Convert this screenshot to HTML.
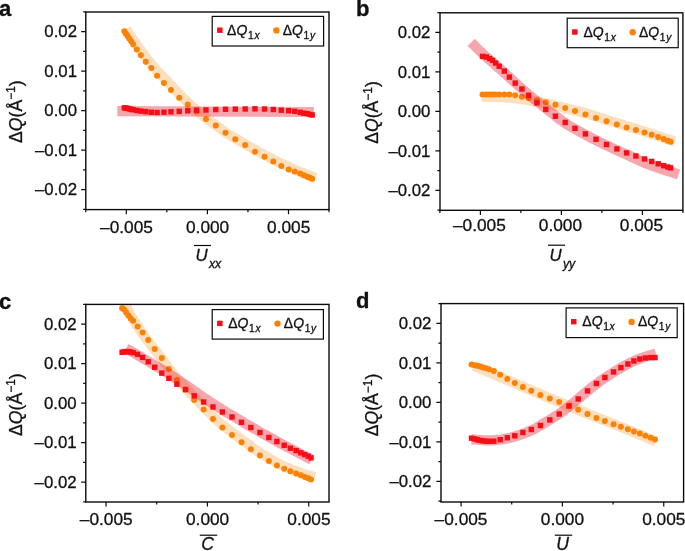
<!DOCTYPE html>
<html><head><meta charset="utf-8"><style>
html,body{margin:0;padding:0;background:#fff;width:685px;height:551px;overflow:hidden}
svg{display:block;will-change:transform;opacity:0.999}
text{font-family:"Liberation Sans", sans-serif;fill:#111;stroke:#111;stroke-width:0.3px}
.t{font-size:16.8px}
.tx{font-size:17.3px}
.yl{font-size:17.6px}
.xl{font-size:17.6px}
.pl{font-size:22px;font-weight:bold}
.lg{font-size:14px}
</style></head><body>
<svg width="685" height="551" viewBox="0 0 685 551">
<rect width="685" height="551" fill="#fff"/>
<clipPath id="cpa"><rect x="85.8" y="12" width="243.2" height="197.6"/></clipPath>
<g clip-path="url(#cpa)">
<path d="M126 29 C127.48 31.25 132.32 38.8 134.9 42.5 C137.48 46.2 139.48 48.5 141.5 51.2 C143.52 53.9 144.9 55.98 147 58.7 C149.1 61.42 151.53 64.58 154.1 67.5 C156.67 70.42 159.63 73.28 162.4 76.2 C165.17 79.12 168.17 82.28 170.7 85 C173.23 87.72 175 89.8 177.6 92.5 C180.2 95.2 183.38 98.43 186.3 101.2 C189.22 103.97 191.82 106.25 195.1 109.1 C198.38 111.95 202.58 115.62 206 118.3 C209.42 120.98 212.37 122.88 215.6 125.2 C218.83 127.52 222.08 130 225.4 132.2 C228.72 134.4 232.2 136.4 235.5 138.4 C238.8 140.4 241.95 142.3 245.2 144.2 C248.45 146.1 251.23 147.7 255 149.8 C258.77 151.9 263.18 154.4 267.8 156.8 C272.42 159.2 277.67 161.83 282.7 164.2 C287.73 166.57 292.55 168.7 298 171 C303.45 173.3 312.5 176.83 315.4 178" fill="none" stroke="rgba(250,150,40,0.30)" stroke-width="10.2" stroke-linejoin="round" stroke-linecap="butt"/>
<circle cx="124.3" cy="31.3" r="3.0" fill="#fb8204"/>
<circle cx="125.9" cy="33.64" r="3.0" fill="#fb8204"/>
<circle cx="127.6" cy="36.12" r="3.0" fill="#fb8204"/>
<circle cx="129.4" cy="38.74" r="3.0" fill="#fb8204"/>
<circle cx="131.2" cy="41.37" r="3.0" fill="#fb8204"/>
<circle cx="133.1" cy="44.14" r="3.0" fill="#fb8204"/>
<circle cx="136.8" cy="49.48" r="3.0" fill="#fb8204"/>
<circle cx="140.9" cy="55.3" r="3.0" fill="#fb8204"/>
<circle cx="145.8" cy="61.7" r="3.0" fill="#fb8204"/>
<circle cx="151.3" cy="67.96" r="3.0" fill="#fb8204"/>
<circle cx="157.1" cy="75.7" r="3.0" fill="#fb8204"/>
<circle cx="163.9" cy="83.1" r="3.0" fill="#fb8204"/>
<circle cx="171" cy="90.1" r="3.0" fill="#fb8204"/>
<circle cx="179.2" cy="97.7" r="3.0" fill="#fb8204"/>
<circle cx="187.8" cy="104.42" r="3.0" fill="#fb8204"/>
<circle cx="196.6" cy="111.6" r="3.0" fill="#fb8204"/>
<circle cx="206" cy="119.1" r="3.0" fill="#fb8204"/>
<circle cx="215.8" cy="125.53" r="3.0" fill="#fb8204"/>
<circle cx="225.5" cy="132.73" r="3.0" fill="#fb8204"/>
<circle cx="235.3" cy="139.16" r="3.0" fill="#fb8204"/>
<circle cx="245.2" cy="145.1" r="3.0" fill="#fb8204"/>
<circle cx="255" cy="151.8" r="3.0" fill="#fb8204"/>
<circle cx="264.5" cy="156.8" r="3.0" fill="#fb8204"/>
<circle cx="273.3" cy="161.55" r="3.0" fill="#fb8204"/>
<circle cx="281.3" cy="165.9" r="3.0" fill="#fb8204"/>
<circle cx="288.7" cy="169.41" r="3.0" fill="#fb8204"/>
<circle cx="294.8" cy="171.61" r="3.0" fill="#fb8204"/>
<circle cx="300.2" cy="173.59" r="3.0" fill="#fb8204"/>
<circle cx="303.8" cy="175.15" r="3.0" fill="#fb8204"/>
<circle cx="307.2" cy="176.68" r="3.0" fill="#fb8204"/>
<circle cx="310" cy="177.85" r="3.0" fill="#fb8204"/>
<circle cx="312.2" cy="178.8" r="3.0" fill="#fb8204"/>
<path d="M117.3 111.1 L313.8 112" fill="none" stroke="rgba(232,22,40,0.38)" stroke-width="10.2" stroke-linejoin="round" stroke-linecap="butt"/>
<rect x="121.6" y="105.16" width="5.4" height="5.4" fill="#f80c16"/>
<rect x="123.2" y="105.36" width="5.4" height="5.4" fill="#f80c16"/>
<rect x="124.9" y="105.66" width="5.4" height="5.4" fill="#f80c16"/>
<rect x="126.7" y="106.16" width="5.4" height="5.4" fill="#f80c16"/>
<rect x="128.5" y="106.64" width="5.4" height="5.4" fill="#f80c16"/>
<rect x="130.4" y="107.07" width="5.4" height="5.4" fill="#f80c16"/>
<rect x="134.1" y="107.8" width="5.4" height="5.4" fill="#f80c16"/>
<rect x="138.2" y="108.39" width="5.4" height="5.4" fill="#f80c16"/>
<rect x="143.1" y="108.9" width="5.4" height="5.4" fill="#f80c16"/>
<rect x="148.6" y="109.58" width="5.4" height="5.4" fill="#f80c16"/>
<rect x="154.4" y="109.79" width="5.4" height="5.4" fill="#f80c16"/>
<rect x="161.2" y="109.5" width="5.4" height="5.4" fill="#f80c16"/>
<rect x="168.3" y="109.11" width="5.4" height="5.4" fill="#f80c16"/>
<rect x="176.5" y="108.7" width="5.4" height="5.4" fill="#f80c16"/>
<rect x="185.1" y="108.09" width="5.4" height="5.4" fill="#f80c16"/>
<rect x="193.9" y="107.51" width="5.4" height="5.4" fill="#f80c16"/>
<rect x="203.3" y="107.3" width="5.4" height="5.4" fill="#f80c16"/>
<rect x="213.1" y="106.9" width="5.4" height="5.4" fill="#f80c16"/>
<rect x="222.8" y="106.59" width="5.4" height="5.4" fill="#f80c16"/>
<rect x="232.6" y="106.4" width="5.4" height="5.4" fill="#f80c16"/>
<rect x="242.5" y="106.3" width="5.4" height="5.4" fill="#f80c16"/>
<rect x="252.3" y="106.1" width="5.4" height="5.4" fill="#f80c16"/>
<rect x="261.8" y="106.3" width="5.4" height="5.4" fill="#f80c16"/>
<rect x="270.6" y="106.81" width="5.4" height="5.4" fill="#f80c16"/>
<rect x="278.6" y="107.5" width="5.4" height="5.4" fill="#f80c16"/>
<rect x="286" y="108.01" width="5.4" height="5.4" fill="#f80c16"/>
<rect x="292.1" y="108.65" width="5.4" height="5.4" fill="#f80c16"/>
<rect x="297.5" y="109.65" width="5.4" height="5.4" fill="#f80c16"/>
<rect x="301.1" y="110.52" width="5.4" height="5.4" fill="#f80c16"/>
<rect x="304.5" y="110.9" width="5.4" height="5.4" fill="#f80c16"/>
<rect x="307.3" y="111.8" width="5.4" height="5.4" fill="#f80c16"/>
<rect x="309.5" y="112.3" width="5.4" height="5.4" fill="#f80c16"/>
</g>
<rect x="85.8" y="12" width="243.2" height="197.6" fill="none" stroke="#0a0a0a" stroke-width="1.4"/>
<path d="M83.2 11.95H85.8M81.2 31.7H85.8M83.2 51.45H85.8M81.2 71.2H85.8M83.2 90.95H85.8M81.2 110.7H85.8M83.2 130.45H85.8M81.2 150.2H85.8M83.2 169.95H85.8M81.2 189.7H85.8M83.2 209.45H85.8M85.75 209.6V212.2M126.3 209.6V214.2M166.85 209.6V212.2M207.4 209.6V214.2M247.95 209.6V212.2M288.5 209.6V214.2M329.05 209.6V212.2" stroke="#0a0a0a" stroke-width="1.2" fill="none"/>
<text x="77" y="37.45" text-anchor="end" class="t">0.02</text>
<text x="77" y="76.95" text-anchor="end" class="t">0.01</text>
<text x="77" y="116.45" text-anchor="end" class="t">0.00</text>
<text x="77" y="155.95" text-anchor="end" class="t">–0.01</text>
<text x="77" y="195.45" text-anchor="end" class="t">–0.02</text>
<text x="126.5" y="232.9" text-anchor="middle" class="tx">–0.005</text>
<text x="207.6" y="232.9" text-anchor="middle" class="tx">0.000</text>
<text x="288.7" y="232.9" text-anchor="middle" class="tx">0.005</text>
<text transform="translate(21.8,111.6) rotate(-90)" text-anchor="middle" class="yl">Δ<tspan font-style="italic">Q</tspan>(Å<tspan dy="-6.5" font-size="12">−1</tspan><tspan dy="6.5">)</tspan></text>
<text x="195.4" y="261" class="t" font-style="italic">U<tspan dx="1.4" dy="6.6" font-size="12.3">xx</tspan></text>
<path d="M194 245.5h17" stroke="#0a0a0a" stroke-width="1.2"/>
<text x="-0.9" y="15.7" class="pl">a</text>
<rect x="212.2" y="16.4" width="111.4" height="29.6" fill="#fff" stroke="#0a0a0a" stroke-width="1.2"/>
<rect x="217.1" y="27.5" width="5.5" height="5.4" fill="#f80c16"/>
<text x="227.1" y="34.9" class="lg">Δ<tspan font-style="italic">Q</tspan><tspan dx="0.6" dy="3.9" font-size="10.2">1<tspan dx="0.8" font-style="italic">x</tspan></tspan></text>
<circle cx="276.4" cy="30.4" r="3.2" fill="#fb8204"/>
<text x="282.7" y="34.9" class="lg">Δ<tspan font-style="italic">Q</tspan><tspan dx="0.6" dy="3.9" font-size="10.2">1<tspan dx="0.8" font-style="italic">y</tspan></tspan></text>
<clipPath id="cpb"><rect x="440" y="12.8" width="242.9" height="197.5"/></clipPath>
<g clip-path="url(#cpb)">
<path d="M482 96.8 C485 96.85 494.5 96.85 500 97.1 C505.5 97.35 510 97.75 515 98.3 C520 98.85 525 99.58 530 100.4 C535 101.22 540 102.15 545 103.2 C550 104.25 555 105.48 560 106.7 C565 107.92 570.83 109.45 575 110.5 C579.17 111.55 581.5 112 585 113 C588.5 114 592.42 115.37 596 116.5 C599.58 117.63 603.02 118.72 606.5 119.8 C609.98 120.88 613.65 121.97 616.9 123 C620.15 124.03 622.82 125.02 626 126 C629.18 126.98 632.83 127.93 636 128.9 C639.17 129.87 641.83 130.78 645 131.8 C648.17 132.82 651.67 133.92 655 135 C658.33 136.08 661.7 137.25 665 138.3 C668.3 139.35 673.17 140.8 674.8 141.3" fill="none" stroke="rgba(250,150,40,0.30)" stroke-width="10.2" stroke-linejoin="round" stroke-linecap="butt"/>
<circle cx="482.5" cy="94.5" r="3.0" fill="#fb8204"/>
<circle cx="486.3" cy="94.51" r="3.0" fill="#fb8204"/>
<circle cx="489.6" cy="94.52" r="3.0" fill="#fb8204"/>
<circle cx="492.5" cy="94.53" r="3.0" fill="#fb8204"/>
<circle cx="495.6" cy="94.55" r="3.0" fill="#fb8204"/>
<circle cx="499.2" cy="94.56" r="3.0" fill="#fb8204"/>
<circle cx="504.3" cy="94.58" r="3.0" fill="#fb8204"/>
<circle cx="509.4" cy="94.59" r="3.0" fill="#fb8204"/>
<circle cx="515.2" cy="95.3" r="3.0" fill="#fb8204"/>
<circle cx="521.9" cy="96.82" r="3.0" fill="#fb8204"/>
<circle cx="528.6" cy="97.98" r="3.0" fill="#fb8204"/>
<circle cx="536.9" cy="100.14" r="3.0" fill="#fb8204"/>
<circle cx="545.8" cy="102.21" r="3.0" fill="#fb8204"/>
<circle cx="555.4" cy="104.8" r="3.0" fill="#fb8204"/>
<circle cx="565.2" cy="107.94" r="3.0" fill="#fb8204"/>
<circle cx="575" cy="111" r="3.0" fill="#fb8204"/>
<circle cx="585.4" cy="114.6" r="3.0" fill="#fb8204"/>
<circle cx="596" cy="118" r="3.0" fill="#fb8204"/>
<circle cx="606.5" cy="121.3" r="3.0" fill="#fb8204"/>
<circle cx="616.9" cy="124.6" r="3.0" fill="#fb8204"/>
<circle cx="626.6" cy="127.6" r="3.0" fill="#fb8204"/>
<circle cx="635.9" cy="130" r="3.0" fill="#fb8204"/>
<circle cx="644.5" cy="132.47" r="3.0" fill="#fb8204"/>
<circle cx="651.7" cy="134.7" r="3.0" fill="#fb8204"/>
<circle cx="658.2" cy="136.9" r="3.0" fill="#fb8204"/>
<circle cx="663.7" cy="139.1" r="3.0" fill="#fb8204"/>
<circle cx="667.8" cy="140.63" r="3.0" fill="#fb8204"/>
<circle cx="670.6" cy="141.76" r="3.0" fill="#fb8204"/>
<path d="M471.25 42.35 C473.04 44.12 478.31 49.52 482 53 C485.69 56.48 489.73 59.95 493.4 63.2 C497.07 66.45 500.37 69.23 504 72.5 C507.63 75.77 511.53 79.5 515.2 82.8 C518.87 86.1 522.37 89.22 526 92.3 C529.63 95.38 532.17 97.42 537 101.3 C541.83 105.18 549.83 111.65 555 115.6 C560.17 119.55 563.47 122.1 568 125 C572.53 127.9 577.2 130.28 582.2 133 C587.2 135.72 592.53 138.57 598 141.3 C603.47 144.03 609.67 146.95 615 149.4 C620.33 151.85 624.88 153.68 630 156 C635.12 158.32 640.37 161.12 645.7 163.3 C651.03 165.48 656.52 167.27 662 169.1 C667.48 170.93 675.83 173.43 678.6 174.3" fill="none" stroke="rgba(232,22,40,0.38)" stroke-width="10.2" stroke-linejoin="round" stroke-linecap="butt"/>
<rect x="479.8" y="53.7" width="5.4" height="5.4" fill="#f80c16"/>
<rect x="483.6" y="54.3" width="5.4" height="5.4" fill="#f80c16"/>
<rect x="486.9" y="55.9" width="5.4" height="5.4" fill="#f80c16"/>
<rect x="489.8" y="57.67" width="5.4" height="5.4" fill="#f80c16"/>
<rect x="492.9" y="60.3" width="5.4" height="5.4" fill="#f80c16"/>
<rect x="496.5" y="63.5" width="5.4" height="5.4" fill="#f80c16"/>
<rect x="501.6" y="68.4" width="5.4" height="5.4" fill="#f80c16"/>
<rect x="506.7" y="74.4" width="5.4" height="5.4" fill="#f80c16"/>
<rect x="512.5" y="80.4" width="5.4" height="5.4" fill="#f80c16"/>
<rect x="519.2" y="86.31" width="5.4" height="5.4" fill="#f80c16"/>
<rect x="525.9" y="92.6" width="5.4" height="5.4" fill="#f80c16"/>
<rect x="534.2" y="100.2" width="5.4" height="5.4" fill="#f80c16"/>
<rect x="543.1" y="106.7" width="5.4" height="5.4" fill="#f80c16"/>
<rect x="552.7" y="113.5" width="5.4" height="5.4" fill="#f80c16"/>
<rect x="562.5" y="119.72" width="5.4" height="5.4" fill="#f80c16"/>
<rect x="572.3" y="125.6" width="5.4" height="5.4" fill="#f80c16"/>
<rect x="582.7" y="131.2" width="5.4" height="5.4" fill="#f80c16"/>
<rect x="593.3" y="136.6" width="5.4" height="5.4" fill="#f80c16"/>
<rect x="603.8" y="141.8" width="5.4" height="5.4" fill="#f80c16"/>
<rect x="614.2" y="146.2" width="5.4" height="5.4" fill="#f80c16"/>
<rect x="623.9" y="150.2" width="5.4" height="5.4" fill="#f80c16"/>
<rect x="633.2" y="153.3" width="5.4" height="5.4" fill="#f80c16"/>
<rect x="641.8" y="156.23" width="5.4" height="5.4" fill="#f80c16"/>
<rect x="649" y="158.7" width="5.4" height="5.4" fill="#f80c16"/>
<rect x="655.5" y="161.1" width="5.4" height="5.4" fill="#f80c16"/>
<rect x="661" y="163" width="5.4" height="5.4" fill="#f80c16"/>
<rect x="665.1" y="164.3" width="5.4" height="5.4" fill="#f80c16"/>
<rect x="667.9" y="165.17" width="5.4" height="5.4" fill="#f80c16"/>
</g>
<rect x="440" y="12.8" width="242.9" height="197.5" fill="none" stroke="#0a0a0a" stroke-width="1.4"/>
<path d="M437.4 12.65H440M435.4 32.4H440M437.4 52.15H440M435.4 71.9H440M437.4 91.65H440M435.4 111.4H440M437.4 131.15H440M435.4 150.9H440M437.4 170.65H440M435.4 190.4H440M437.4 210.15H440M439.9 210.3V212.9M480.4 210.3V214.9M520.9 210.3V212.9M561.4 210.3V214.9M601.9 210.3V212.9M642.4 210.3V214.9M682.9 210.3V212.9" stroke="#0a0a0a" stroke-width="1.2" fill="none"/>
<text x="430.4" y="38.15" text-anchor="end" class="t">0.02</text>
<text x="430.4" y="77.65" text-anchor="end" class="t">0.01</text>
<text x="430.4" y="117.15" text-anchor="end" class="t">0.00</text>
<text x="430.4" y="156.65" text-anchor="end" class="t">–0.01</text>
<text x="430.4" y="196.15" text-anchor="end" class="t">–0.02</text>
<text x="479.4" y="230.5" text-anchor="middle" class="tx">–0.005</text>
<text x="560.4" y="230.5" text-anchor="middle" class="tx">0.000</text>
<text x="641.4" y="230.5" text-anchor="middle" class="tx">0.005</text>
<text transform="translate(378,112.45) rotate(-90)" text-anchor="middle" class="yl">Δ<tspan font-style="italic">Q</tspan>(Å<tspan dy="-6.5" font-size="12">−1</tspan><tspan dy="6.5">)</tspan></text>
<text x="549.4" y="260.9" class="t" font-style="italic">U<tspan dx="1.4" dy="6.6" font-size="12.3">yy</tspan></text>
<path d="M548 245.2h17" stroke="#0a0a0a" stroke-width="1.2"/>
<text x="355.9" y="16" class="pl">b</text>
<rect x="567.2" y="18.2" width="111" height="29.5" fill="#fff" stroke="#0a0a0a" stroke-width="1.2"/>
<rect x="572.1" y="29.3" width="5.5" height="5.4" fill="#f80c16"/>
<text x="583.4" y="36.7" class="lg">Δ<tspan font-style="italic">Q</tspan><tspan dx="0.6" dy="3.9" font-size="10.2">1<tspan dx="0.8" font-style="italic">x</tspan></tspan></text>
<circle cx="632.7" cy="32.2" r="3.2" fill="#fb8204"/>
<text x="639" y="36.7" class="lg">Δ<tspan font-style="italic">Q</tspan><tspan dx="0.6" dy="3.9" font-size="10.2">1<tspan dx="0.8" font-style="italic">y</tspan></tspan></text>
<clipPath id="cpc"><rect x="85.8" y="304.4" width="243.2" height="197.6"/></clipPath>
<g clip-path="url(#cpc)">
<path d="M124.4 302 C125.12 303.58 127 308.25 128.7 311.5 C130.4 314.75 132.53 318.17 134.6 321.5 C136.67 324.83 138.82 328.17 141.1 331.5 C143.38 334.83 146.02 338.42 148.3 341.5 C150.58 344.58 152.52 347.08 154.8 350 C157.08 352.92 159.63 355.92 162 359 C164.37 362.08 166.5 365.25 169 368.5 C171.5 371.75 174.25 375.25 177 378.5 C179.75 381.75 182.58 384.83 185.5 388 C188.42 391.17 191.5 394.37 194.5 397.5 C197.5 400.63 200.42 403.67 203.5 406.8 C206.58 409.93 209.82 413.23 213 416.3 C216.18 419.37 219.42 422.48 222.6 425.2 C225.78 427.92 228.93 430.22 232.1 432.6 C235.27 434.98 238.45 437.18 241.6 439.5 C244.75 441.82 247.93 444.3 251 446.5 C254.07 448.7 257 450.75 260 452.7 C263 454.65 266.17 456.52 269 458.2 C271.83 459.88 274.33 461.4 277 462.8 C279.67 464.2 282 465.27 285 466.6 C288 467.93 291.67 469.52 295 470.8 C298.33 472.08 301.7 473.22 305 474.3 C308.3 475.38 313.17 476.8 314.8 477.3" fill="none" stroke="rgba(250,150,40,0.30)" stroke-width="10.2" stroke-linejoin="round" stroke-linecap="butt"/>
<circle cx="122.1" cy="308.2" r="3.0" fill="#fb8204"/>
<circle cx="124.1" cy="309.46" r="3.0" fill="#fb8204"/>
<circle cx="126.2" cy="312.4" r="3.0" fill="#fb8204"/>
<circle cx="128.4" cy="315.48" r="3.0" fill="#fb8204"/>
<circle cx="130.7" cy="318.49" r="3.0" fill="#fb8204"/>
<circle cx="133.1" cy="320.83" r="3.0" fill="#fb8204"/>
<circle cx="137.6" cy="326.59" r="3.0" fill="#fb8204"/>
<circle cx="142.6" cy="332.6" r="3.0" fill="#fb8204"/>
<circle cx="148.2" cy="340.1" r="3.0" fill="#fb8204"/>
<circle cx="154.7" cy="349" r="3.0" fill="#fb8204"/>
<circle cx="161.8" cy="357.9" r="3.0" fill="#fb8204"/>
<circle cx="168.9" cy="368.9" r="3.0" fill="#fb8204"/>
<circle cx="176.9" cy="379.9" r="3.0" fill="#fb8204"/>
<circle cx="185.5" cy="389.47" r="3.0" fill="#fb8204"/>
<circle cx="194.2" cy="400" r="3.0" fill="#fb8204"/>
<circle cx="203.6" cy="409.5" r="3.0" fill="#fb8204"/>
<circle cx="213" cy="419" r="3.0" fill="#fb8204"/>
<circle cx="222.4" cy="427.5" r="3.0" fill="#fb8204"/>
<circle cx="232" cy="434.9" r="3.0" fill="#fb8204"/>
<circle cx="241.5" cy="442.3" r="3.0" fill="#fb8204"/>
<circle cx="250.9" cy="449.3" r="3.0" fill="#fb8204"/>
<circle cx="259.9" cy="455.5" r="3.0" fill="#fb8204"/>
<circle cx="268.9" cy="460.9" r="3.0" fill="#fb8204"/>
<circle cx="276.9" cy="465.5" r="3.0" fill="#fb8204"/>
<circle cx="284.2" cy="468.85" r="3.0" fill="#fb8204"/>
<circle cx="290.4" cy="471.3" r="3.0" fill="#fb8204"/>
<circle cx="296.1" cy="473.62" r="3.0" fill="#fb8204"/>
<circle cx="300.8" cy="475.31" r="3.0" fill="#fb8204"/>
<circle cx="304.8" cy="476.91" r="3.0" fill="#fb8204"/>
<circle cx="308.2" cy="478.36" r="3.0" fill="#fb8204"/>
<circle cx="311" cy="479.4" r="3.0" fill="#fb8204"/>
<path d="M126 348.5 C127.5 349.33 131.83 351.67 135 353.5 C138.17 355.33 141.67 357.5 145 359.5 C148.33 361.5 151.67 363.5 155 365.5 C158.33 367.5 161.67 369.42 165 371.5 C168.33 373.58 171.67 375.83 175 378 C178.33 380.17 181.67 382.25 185 384.5 C188.33 386.75 191.67 389.17 195 391.5 C198.33 393.83 201.67 396.25 205 398.5 C208.33 400.75 211.67 402.87 215 405 C218.33 407.13 221.67 409.25 225 411.3 C228.33 413.35 231.67 415.3 235 417.3 C238.33 419.3 241.67 421.35 245 423.3 C248.33 425.25 251.67 427.08 255 429 C258.33 430.92 261.67 432.92 265 434.8 C268.33 436.68 271.67 438.47 275 440.3 C278.33 442.13 281.67 444.02 285 445.8 C288.33 447.58 291.67 449.27 295 451 C298.33 452.73 302.2 454.73 305 456.2 C307.8 457.67 310.67 459.2 311.8 459.8" fill="none" stroke="rgba(232,22,40,0.38)" stroke-width="10.2" stroke-linejoin="round" stroke-linecap="butt"/>
<rect x="119.4" y="349.58" width="5.4" height="5.4" fill="#f80c16"/>
<rect x="121.4" y="349.18" width="5.4" height="5.4" fill="#f80c16"/>
<rect x="123.5" y="348.81" width="5.4" height="5.4" fill="#f80c16"/>
<rect x="125.7" y="348.98" width="5.4" height="5.4" fill="#f80c16"/>
<rect x="128" y="349.3" width="5.4" height="5.4" fill="#f80c16"/>
<rect x="130.4" y="349.98" width="5.4" height="5.4" fill="#f80c16"/>
<rect x="134.9" y="351.71" width="5.4" height="5.4" fill="#f80c16"/>
<rect x="139.9" y="354.67" width="5.4" height="5.4" fill="#f80c16"/>
<rect x="145.5" y="359.05" width="5.4" height="5.4" fill="#f80c16"/>
<rect x="152" y="364.53" width="5.4" height="5.4" fill="#f80c16"/>
<rect x="159.1" y="370.42" width="5.4" height="5.4" fill="#f80c16"/>
<rect x="166.2" y="375.6" width="5.4" height="5.4" fill="#f80c16"/>
<rect x="174.2" y="381.5" width="5.4" height="5.4" fill="#f80c16"/>
<rect x="182.8" y="386.91" width="5.4" height="5.4" fill="#f80c16"/>
<rect x="191.5" y="393.1" width="5.4" height="5.4" fill="#f80c16"/>
<rect x="200.9" y="399.3" width="5.4" height="5.4" fill="#f80c16"/>
<rect x="210.3" y="404.3" width="5.4" height="5.4" fill="#f80c16"/>
<rect x="219.7" y="409.3" width="5.4" height="5.4" fill="#f80c16"/>
<rect x="229.3" y="414.3" width="5.4" height="5.4" fill="#f80c16"/>
<rect x="238.8" y="419.6" width="5.4" height="5.4" fill="#f80c16"/>
<rect x="248.2" y="424.8" width="5.4" height="5.4" fill="#f80c16"/>
<rect x="257.2" y="429.8" width="5.4" height="5.4" fill="#f80c16"/>
<rect x="266.2" y="434.8" width="5.4" height="5.4" fill="#f80c16"/>
<rect x="274.2" y="438.8" width="5.4" height="5.4" fill="#f80c16"/>
<rect x="281.5" y="442.55" width="5.4" height="5.4" fill="#f80c16"/>
<rect x="287.7" y="445.56" width="5.4" height="5.4" fill="#f80c16"/>
<rect x="293.4" y="447.92" width="5.4" height="5.4" fill="#f80c16"/>
<rect x="298.1" y="450.13" width="5.4" height="5.4" fill="#f80c16"/>
<rect x="302.1" y="451.91" width="5.4" height="5.4" fill="#f80c16"/>
<rect x="305.5" y="453.47" width="5.4" height="5.4" fill="#f80c16"/>
<rect x="308.3" y="455.2" width="5.4" height="5.4" fill="#f80c16"/>
</g>
<rect x="85.8" y="304.4" width="243.2" height="197.6" fill="none" stroke="#0a0a0a" stroke-width="1.4"/>
<path d="M83.2 304.45H85.8M81.2 324.2H85.8M83.2 343.95H85.8M81.2 363.7H85.8M83.2 383.45H85.8M81.2 403.2H85.8M83.2 422.95H85.8M81.2 442.7H85.8M83.2 462.45H85.8M81.2 482.2H85.8M83.2 501.95H85.8M106.05 502V506.6M156.73 502V504.6M207.4 502V506.6M258.07 502V504.6M308.75 502V506.6" stroke="#0a0a0a" stroke-width="1.2" fill="none"/>
<text x="76.6" y="329.95" text-anchor="end" class="t">0.02</text>
<text x="76.6" y="369.45" text-anchor="end" class="t">0.01</text>
<text x="76.6" y="408.95" text-anchor="end" class="t">0.00</text>
<text x="76.6" y="448.45" text-anchor="end" class="t">–0.01</text>
<text x="76.6" y="487.95" text-anchor="end" class="t">–0.02</text>
<text x="106.25" y="525.3" text-anchor="middle" class="tx">–0.005</text>
<text x="207.6" y="525.3" text-anchor="middle" class="tx">0.000</text>
<text x="308.95" y="525.3" text-anchor="middle" class="tx">0.005</text>
<text transform="translate(21.8,404.6) rotate(-90)" text-anchor="middle" class="yl">Δ<tspan font-style="italic">Q</tspan>(Å<tspan dy="-6.5" font-size="12">−1</tspan><tspan dy="6.5">)</tspan></text>
<text x="207.6" y="550.4" class="xl" font-style="italic" text-anchor="middle">C</text>
<path d="M199.8 535.2h17.4" stroke="#0a0a0a" stroke-width="1.2"/>
<text x="-0.9" y="308.7" class="pl">c</text>
<rect x="212.2" y="309.6" width="111.2" height="29.5" fill="#fff" stroke="#0a0a0a" stroke-width="1.2"/>
<rect x="217.1" y="320.7" width="5.5" height="5.4" fill="#f80c16"/>
<text x="228.2" y="328.1" class="lg">Δ<tspan font-style="italic">Q</tspan><tspan dx="0.6" dy="3.9" font-size="10.2">1<tspan dx="0.8" font-style="italic">x</tspan></tspan></text>
<circle cx="277.5" cy="323.6" r="3.2" fill="#fb8204"/>
<text x="283.8" y="328.1" class="lg">Δ<tspan font-style="italic">Q</tspan><tspan dx="0.6" dy="3.9" font-size="10.2">1<tspan dx="0.8" font-style="italic">y</tspan></tspan></text>
<clipPath id="cpd"><rect x="441" y="303.6" width="242.6" height="198.4"/></clipPath>
<g clip-path="url(#cpd)">
<path d="M473.8 365.7 C476.5 366.83 483.97 369.92 490 372.5 C496.03 375.08 503.33 378.33 510 381.2 C516.67 384.07 523.33 386.87 530 389.7 C536.67 392.53 543.33 395.4 550 398.2 C556.67 401 563.33 403.73 570 406.5 C576.67 409.27 583.33 412.13 590 414.8 C596.67 417.47 603.33 419.83 610 422.5 C616.67 425.17 624.17 428.4 630 430.8 C635.83 433.2 640.67 435.12 645 436.9 C649.33 438.68 654.17 440.73 656 441.5" fill="none" stroke="rgba(250,150,40,0.30)" stroke-width="10.2" stroke-linejoin="round" stroke-linecap="butt"/>
<circle cx="471.5" cy="364.52" r="3.0" fill="#fb8204"/>
<circle cx="474.4" cy="365.19" r="3.0" fill="#fb8204"/>
<circle cx="477.3" cy="365.87" r="3.0" fill="#fb8204"/>
<circle cx="480.2" cy="366.56" r="3.0" fill="#fb8204"/>
<circle cx="483.1" cy="367.39" r="3.0" fill="#fb8204"/>
<circle cx="486" cy="368.21" r="3.0" fill="#fb8204"/>
<circle cx="489" cy="369.22" r="3.0" fill="#fb8204"/>
<circle cx="493.8" cy="370.96" r="3.0" fill="#fb8204"/>
<circle cx="500.2" cy="374.82" r="3.0" fill="#fb8204"/>
<circle cx="507.3" cy="379" r="3.0" fill="#fb8204"/>
<circle cx="514.8" cy="382.95" r="3.0" fill="#fb8204"/>
<circle cx="522.9" cy="386.9" r="3.0" fill="#fb8204"/>
<circle cx="531.3" cy="390.81" r="3.0" fill="#fb8204"/>
<circle cx="540.4" cy="394.9" r="3.0" fill="#fb8204"/>
<circle cx="549.8" cy="398.5" r="3.0" fill="#fb8204"/>
<circle cx="559.2" cy="402.03" r="3.0" fill="#fb8204"/>
<circle cx="569" cy="405.9" r="3.0" fill="#fb8204"/>
<circle cx="578.2" cy="409.86" r="3.0" fill="#fb8204"/>
<circle cx="587.5" cy="413.9" r="3.0" fill="#fb8204"/>
<circle cx="596.4" cy="417.93" r="3.0" fill="#fb8204"/>
<circle cx="604.9" cy="420.9" r="3.0" fill="#fb8204"/>
<circle cx="613.5" cy="424.2" r="3.0" fill="#fb8204"/>
<circle cx="620.9" cy="426.8" r="3.0" fill="#fb8204"/>
<circle cx="627.9" cy="429.2" r="3.0" fill="#fb8204"/>
<circle cx="633.9" cy="431.4" r="3.0" fill="#fb8204"/>
<circle cx="639.8" cy="433.4" r="3.0" fill="#fb8204"/>
<circle cx="645.4" cy="435.8" r="3.0" fill="#fb8204"/>
<circle cx="650.8" cy="437.8" r="3.0" fill="#fb8204"/>
<circle cx="655" cy="439.4" r="3.0" fill="#fb8204"/>
<path d="M471.5 439.3 C473.75 439.47 481.08 440.15 485 440.3 C488.92 440.45 491.33 440.5 495 440.2 C498.67 439.9 502.83 439.4 507 438.5 C511.17 437.6 515.83 436.18 520 434.8 C524.17 433.42 528.45 431.87 532 430.2 C535.55 428.53 538.3 426.57 541.3 424.8 C544.3 423.03 547.03 421.42 550 419.6 C552.97 417.78 555.93 416.08 559.1 413.9 C562.27 411.72 565.83 409.02 569 406.5 C572.17 403.98 575.02 401.38 578.1 398.8 C581.18 396.22 584.43 393.5 587.5 391 C590.57 388.5 592.75 386.55 596.5 383.8 C600.25 381.05 605.25 377.55 610 374.5 C614.75 371.45 620 368.17 625 365.5 C630 362.83 634.83 360.5 640 358.5 C645.17 356.5 653.33 354.33 656 353.5" fill="none" stroke="rgba(232,22,40,0.38)" stroke-width="10.2" stroke-linejoin="round" stroke-linecap="butt"/>
<rect x="468.8" y="435.5" width="5.4" height="5.4" fill="#f80c16"/>
<rect x="471.7" y="436.22" width="5.4" height="5.4" fill="#f80c16"/>
<rect x="474.6" y="437.09" width="5.4" height="5.4" fill="#f80c16"/>
<rect x="477.5" y="437.68" width="5.4" height="5.4" fill="#f80c16"/>
<rect x="480.4" y="438.17" width="5.4" height="5.4" fill="#f80c16"/>
<rect x="483.3" y="438.53" width="5.4" height="5.4" fill="#f80c16"/>
<rect x="486.3" y="438.6" width="5.4" height="5.4" fill="#f80c16"/>
<rect x="491.1" y="438.49" width="5.4" height="5.4" fill="#f80c16"/>
<rect x="497.5" y="437.02" width="5.4" height="5.4" fill="#f80c16"/>
<rect x="504.6" y="435.1" width="5.4" height="5.4" fill="#f80c16"/>
<rect x="512.1" y="433.13" width="5.4" height="5.4" fill="#f80c16"/>
<rect x="520.2" y="429.8" width="5.4" height="5.4" fill="#f80c16"/>
<rect x="528.6" y="426.8" width="5.4" height="5.4" fill="#f80c16"/>
<rect x="537.7" y="422.8" width="5.4" height="5.4" fill="#f80c16"/>
<rect x="547.1" y="417.2" width="5.4" height="5.4" fill="#f80c16"/>
<rect x="556.5" y="411.32" width="5.4" height="5.4" fill="#f80c16"/>
<rect x="566.3" y="403.2" width="5.4" height="5.4" fill="#f80c16"/>
<rect x="575.5" y="396.28" width="5.4" height="5.4" fill="#f80c16"/>
<rect x="584.8" y="388.2" width="5.4" height="5.4" fill="#f80c16"/>
<rect x="593.7" y="380.73" width="5.4" height="5.4" fill="#f80c16"/>
<rect x="602.2" y="374.8" width="5.4" height="5.4" fill="#f80c16"/>
<rect x="610.8" y="369.3" width="5.4" height="5.4" fill="#f80c16"/>
<rect x="618.2" y="364.9" width="5.4" height="5.4" fill="#f80c16"/>
<rect x="625.2" y="361.3" width="5.4" height="5.4" fill="#f80c16"/>
<rect x="631.2" y="358.3" width="5.4" height="5.4" fill="#f80c16"/>
<rect x="637.1" y="356.3" width="5.4" height="5.4" fill="#f80c16"/>
<rect x="642.7" y="355.3" width="5.4" height="5.4" fill="#f80c16"/>
<rect x="648.1" y="354.9" width="5.4" height="5.4" fill="#f80c16"/>
<rect x="652.3" y="354.9" width="5.4" height="5.4" fill="#f80c16"/>
</g>
<rect x="441" y="303.6" width="242.6" height="198.4" fill="none" stroke="#0a0a0a" stroke-width="1.4"/>
<path d="M438.4 303.55H441M436.4 323.3H441M438.4 343.05H441M436.4 362.8H441M438.4 382.55H441M436.4 402.3H441M438.4 422.05H441M436.4 441.8H441M438.4 461.55H441M436.4 481.3H441M438.4 501.05H441M461.05 502V506.6M511.72 502V504.6M562.4 502V506.6M613.07 502V504.6M663.75 502V506.6" stroke="#0a0a0a" stroke-width="1.2" fill="none"/>
<text x="431.4" y="329.05" text-anchor="end" class="t">0.02</text>
<text x="431.4" y="368.55" text-anchor="end" class="t">0.01</text>
<text x="431.4" y="408.05" text-anchor="end" class="t">0.00</text>
<text x="431.4" y="447.55" text-anchor="end" class="t">–0.01</text>
<text x="431.4" y="487.05" text-anchor="end" class="t">–0.02</text>
<text x="461.05" y="525.3" text-anchor="middle" class="tx">–0.005</text>
<text x="562.4" y="525.3" text-anchor="middle" class="tx">0.000</text>
<text x="663.75" y="525.3" text-anchor="middle" class="tx">0.005</text>
<text transform="translate(378,405) rotate(-90)" text-anchor="middle" class="yl">Δ<tspan font-style="italic">Q</tspan>(Å<tspan dy="-6.5" font-size="12">−1</tspan><tspan dy="6.5">)</tspan></text>
<text x="562.6" y="550.4" class="xl" font-style="italic" text-anchor="middle">U</text>
<path d="M554.8 535.2h17.4" stroke="#0a0a0a" stroke-width="1.2"/>
<text x="355.9" y="308.4" class="pl">d</text>
<rect x="566.1" y="307.9" width="111.1" height="29.7" fill="#fff" stroke="#0a0a0a" stroke-width="1.2"/>
<rect x="571" y="319" width="5.5" height="5.4" fill="#f80c16"/>
<text x="582.3" y="326.4" class="lg">Δ<tspan font-style="italic">Q</tspan><tspan dx="0.6" dy="3.9" font-size="10.2">1<tspan dx="0.8" font-style="italic">x</tspan></tspan></text>
<circle cx="631.6" cy="321.9" r="3.2" fill="#fb8204"/>
<text x="637.9" y="326.4" class="lg">Δ<tspan font-style="italic">Q</tspan><tspan dx="0.6" dy="3.9" font-size="10.2">1<tspan dx="0.8" font-style="italic">y</tspan></tspan></text>
</svg>
</body></html>
